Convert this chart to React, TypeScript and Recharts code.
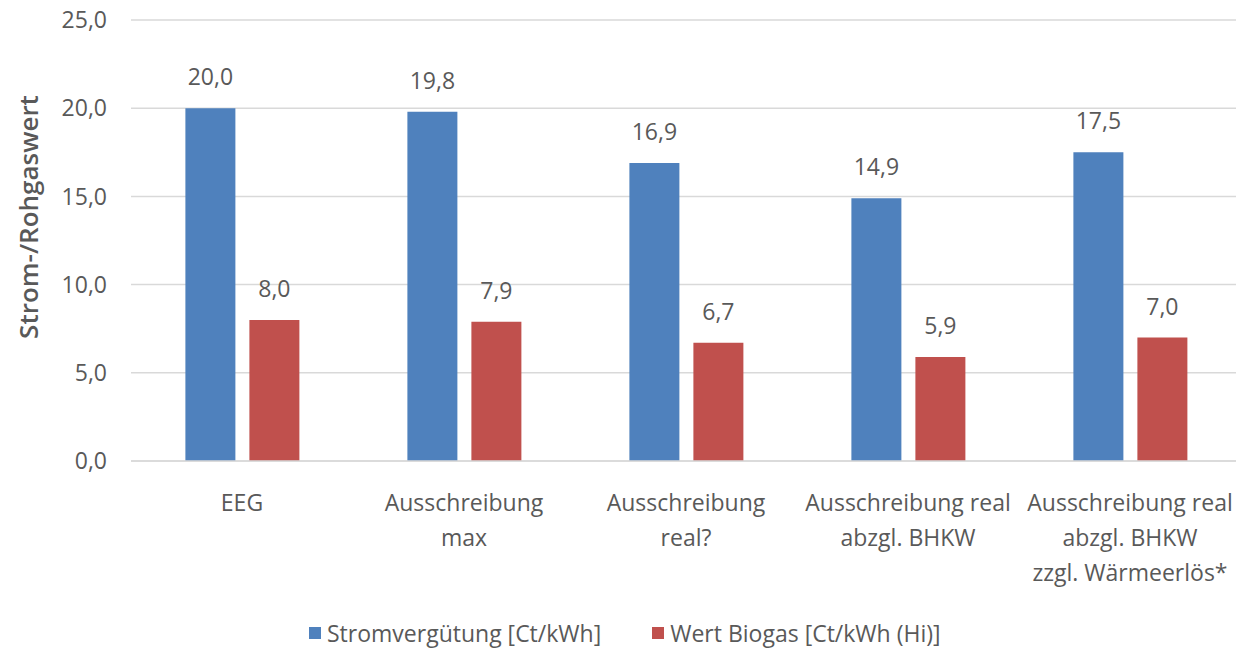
import React from "react";
import { BarChart, Bar, XAxis, YAxis, CartesianGrid, LabelList, Legend } from "recharts";

const categories = [
  "EEG",
  "Ausschreibung\nmax",
  "Ausschreibung\nreal?",
  "Ausschreibung real\nabzgl. BHKW",
  "Ausschreibung real\nabzgl. BHKW\nzzgl. Wärmeerlös*",
];
const strom = [20.0, 19.8, 16.9, 14.9, 17.5];
const biogas = [8.0, 7.9, 6.7, 5.9, 7.0];
const yTicks = [0, 5, 10, 15, 20, 25];

const seriesNames = ["Stromvergütung [Ct/kWh]", "Wert Biogas [Ct/kWh (Hi)]"];
const colors = ["#4F81BD", "#C0504D"];

const data = categories.map((c, i) => ({ name: c, strom: strom[i], biogas: biogas[i] }));

const FONT = "'Open Sans', sans-serif";
const TEXT = "#595959";
const FS = 23;
const fmt = (v: number) => v.toFixed(1).replace(".", ",");

const CatTick = (props: any) => {
  const { x, y, payload } = props;
  const lines = String(payload.value).split("\n");
  return (
    <g>
      {lines.map((l, i) => (
        <text key={i} x={x} y={y + 42 + i * 35} textAnchor="middle" fontFamily={FONT} fontSize={FS} fill={TEXT}>
          {l}
        </text>
      ))}
    </g>
  );
};

const YTitle = () => (
  <text
    x={38}
    y={217}
    transform="rotate(-90 38 217)"
    textAnchor="middle"
    fontFamily={FONT}
    fontSize={26}
    fontWeight={600}
    fill={TEXT}
  >
    Strom-/Rohgaswert
  </text>
);

const LegendContent = () => (
  <div style={{ display: "flex", alignItems: "center", height: 30, fontFamily: FONT, fontSize: FS, color: TEXT, paddingLeft: 309 }}>
    {seriesNames.map((n, i) => (
      <div key={n} style={{ display: "flex", alignItems: "center", marginRight: 51, whiteSpace: "nowrap" }}>
        <span style={{ display: "inline-block", width: 12, height: 12, background: colors[i], marginRight: 6 }} />
        <span>{n}</span>
      </div>
    ))}
  </div>
);

export default function App() {
  return (
    <div style={{ position: "absolute", left: 0, top: 0, width: 1236, height: 650, overflow: "hidden", background: "#fff" }}>
      <BarChart
        width={1245}
        height={650}
        data={data}
        margin={{ top: 20, right: 4, left: 0, bottom: 0 }}
        barCategoryGap="24.5%"
        barGap={14}
      >
        <CartesianGrid vertical={false} stroke="#D9D9D9" strokeWidth={1.5} />
        <XAxis
          dataKey="name"
          tick={<CatTick />}
          tickLine={false}
          axisLine={{ stroke: "#D9D9D9", strokeWidth: 1.5 }}
          height={159}
          interval={0}
        />
        <YAxis
          domain={[0, 25]}
          ticks={yTicks}
          tickFormatter={fmt}
          tick={{ fontFamily: FONT, fontSize: FS, fill: TEXT }}
          tickLine={false}
          axisLine={false}
          width={131}
          tickMargin={18}
          label={<YTitle />}
        />
        <Legend verticalAlign="bottom" content={<LegendContent />} wrapperStyle={{ bottom: 2, left: 0 }} />
        <Bar dataKey="strom" name={seriesNames[0]} fill={colors[0]} isAnimationActive={false}>
          <LabelList dataKey="strom" position="top" offset={23} formatter={(v: any) => fmt(Number(v))}
            style={{ fontFamily: FONT, fontSize: FS, fill: TEXT }} />
        </Bar>
        <Bar dataKey="biogas" name={seriesNames[1]} fill={colors[1]} isAnimationActive={false}>
          <LabelList dataKey="biogas" position="top" offset={23} formatter={(v: any) => fmt(Number(v))}
            style={{ fontFamily: FONT, fontSize: FS, fill: TEXT }} />
        </Bar>
      </BarChart>
    </div>
  );
}
